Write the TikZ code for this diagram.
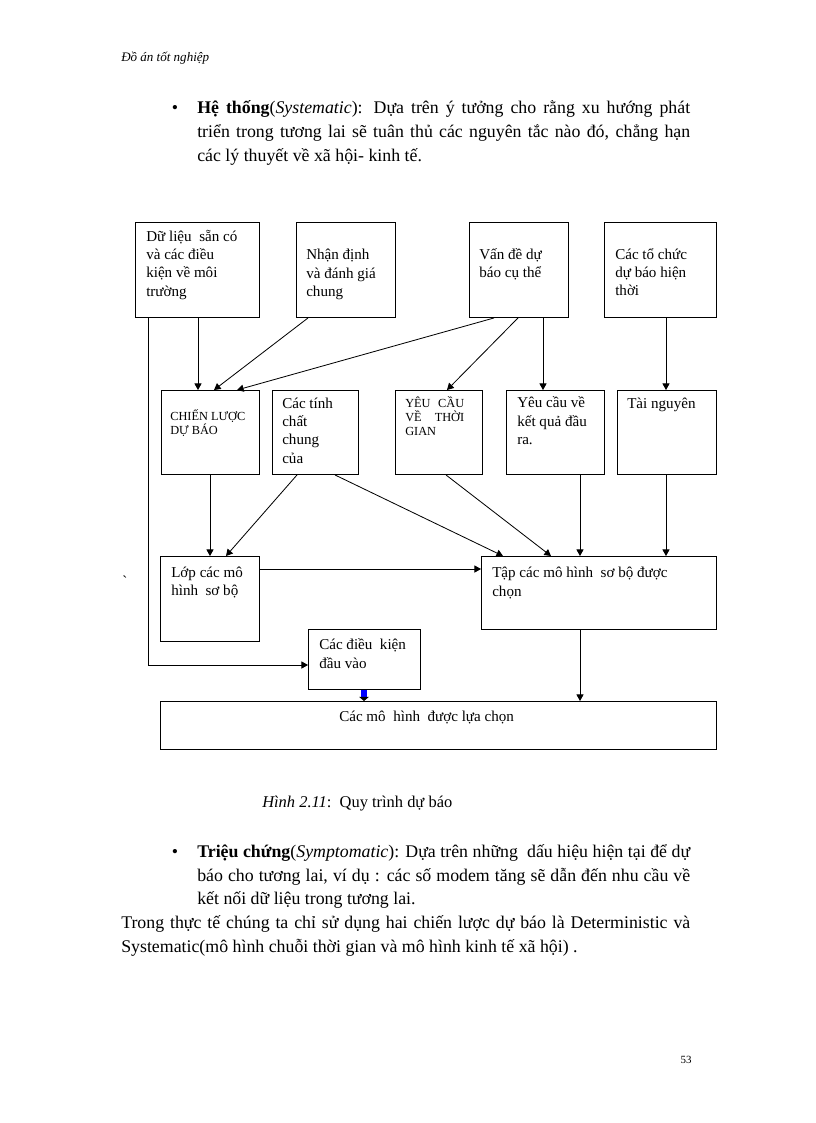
\documentclass[tikz,border=0pt]{standalone}
\usepackage{fontspec}
\setmainfont{Liberation Serif}
\usetikzlibrary{arrows.meta}
\def\px{0.7295pt}
\newcommand{\chuhop}{\fontsize{11}{13.4}\selectfont}
\newcommand{\chuhoa}{\fontsize{9}{10.2}\selectfont}
\newcommand{\chuthan}{\fontsize{13}{16}\selectfont}
\newcommand{\dem}{\rule{0pt}{12pt}}
\newcommand{\dan}[2]{\makebox[#1][s]{#2}}

\begin{document}
\begin{tikzpicture}[x=0.7295pt, y=-0.7295pt,
	hop/.style={draw, line width=0.7pt, inner sep=0pt, anchor=north west},
	chu/.style={anchor=north west, inner sep=0pt, align=left, font=\chuhop},
	chuin/.style={anchor=north west, inner sep=0pt, align=left, font=\chuhoa},
	dong/.style={anchor=base west, inner sep=0pt, font=\chuthan},
	muiten/.style={line width=0.6pt, -{Triangle[length=4.8pt,width=5.2pt]}},
	khoixanh/.style={draw=blue, line width=5pt, -{Triangle[length=3pt,width=7pt,color=black]}}]
			%%%%% TRANG %%%%%
			\path[fill=white, use as bounding box] (0,0) rectangle (816,1123);
			
			\node[anchor=base west, inner sep=0pt, font=\fontsize{9.5}{11}\selectfont\itshape] (tieude) at (121,61) {Đồ án tốt nghiệp};
			
			\node[anchor=base, inner sep=0pt, font=\chuthan] (cham1) at (175,113) {•};
			\node[dong] (hethong1) at (197,113) {\dan{359.6pt}{\textbf{Hệ thống}(\textit{Systematic}): Dựa trên ý tưởng cho rằng xu hướng phát}};
			\node[dong] (hethong2) at (197,137) {\dan{359.6pt}{triển trong tương lai sẽ tuân thủ các nguyên tắc nào đó, chẳng hạn}};
			\node[dong] (hethong3) at (197,161) {các lý thuyết về xã hội- kinh tế.};
			
			%%%%% HANG 1 %%%%%
			\node[hop, minimum width=124*\px, minimum height=95*\px] (dulieu) at (135,222) {};
			\node[chu] (dulieu-chu) at (146,224.5) {\dem Dữ liệu\ \ sẵn có\\và các điều\\kiện về môi\\trường};
			
			\node[hop, minimum width=99*\px, minimum height=95*\px] (nhandinh) at (296,222) {};
			\node[chu] (nhandinh-chu) at (306,243) {\dem Nhận định\\và đánh giá\\chung};
			
			\node[hop, minimum width=99*\px, minimum height=95*\px] (vande) at (469,222) {};
			\node[chu] (vande-chu) at (479,242.5) {\dem Vấn đề dự\\báo cụ thể};
			
			\node[hop, minimum width=112*\px, minimum height=95*\px] (tochuc) at (604,222) {};
			\node[chu] (tochuc-chu) at (615,242.5) {\dem Các tổ chức\\dự báo hiện\\thời};
			
			%%%%% HANG 2 %%%%%
			\node[hop, minimum width=98*\px, minimum height=84*\px] (chienluoc) at (161,390) {};
			\node[chuin] (chienluoc-chu) at (170,404) {\dem CHIẾN LƯỢC\\DỰ BÁO};
			
			\node[hop, minimum width=86*\px, minimum height=84*\px] (tinhchat) at (272,390) {};
			\node[chu] (tinhchat-chu) at (282,391.5) {\dem Các tính\\chất\\chung\\của};
			
			\node[hop, minimum width=87*\px, minimum height=84*\px] (thoigian) at (395,390) {};
			\node[chuin] (thoigian-chu) at (405,390.5) {\dem\dan{43pt}{YÊU CẦU}\\\dan{43pt}{VỀ THỜI}\\GIAN};
			
			\node[hop, minimum width=98*\px, minimum height=84*\px] (ketqua) at (506,390) {};
			\node[chu] (ketqua-chu) at (517,391) {\dem Yêu cầu về\\kết quả đầu\\ra.};
			
			\node[hop, minimum width=99*\px, minimum height=84*\px] (tainguyen) at (617,390) {};
			\node[chu] (tainguyen-chu) at (627,392) {\dem Tài nguyên};
			
			%%%%% HANG 3 %%%%%
			\node[anchor=base, inner sep=0pt, font=\chuhop] (dauhuyen) at (125,586) {\textasciigrave};
			
			\node[hop, minimum width=99*\px, minimum height=85*\px] (lop) at (160,556) {};
			\node[chu] (lop-chu) at (171,560.5) {\dem Lớp các mô\\hình\ \ sơ bộ};
			
			\node[hop, minimum width=235*\px, minimum height=73*\px] (tap) at (481,556) {};
			\node[chu] (tap-chu) at (492,561) {\dem Tập các mô hình\ \ sơ bộ được\\chọn};
			
			\node[hop, minimum width=112*\px, minimum height=60*\px] (dauvao) at (308,629) {};
			\node[chu] (dauvao-chu) at (319,633) {\dem Các điều\ \ kiện\\đầu vào};
			
			\node[hop, minimum width=556*\px, minimum height=48*\px] (luachon) at (160,701) {};
			\node[chu] (luachon-chu) at (339,704.5) {\dem Các mô\ \ hình\ \ được lựa chọn};
			
			%%%%% MUI TEN %%%%%
			\draw[muiten] (dulieu.south -| 198,0) -- (chienluoc.north -| 198,0);
			\draw[muiten] (nhandinh.south -| 308,0) -- (chienluoc.north -| 214,0);
			\draw[muiten] (vande.south -| 494,0) -- (chienluoc.north -| 237,0);
			\draw[muiten] (vande.south -| 518,0) -- (thoigian.north -| 447,0);
			\draw[muiten] (vande.south -| 543,0) -- (ketqua.north -| 543,0);
			\draw[muiten] (tochuc.south -| 666,0) -- (tainguyen.north -| 666,0);
			
			\draw[muiten] (chienluoc.south -| 210,0) -- (lop.north -| 210,0);
			\draw[muiten] (tinhchat.south -| 297,0) -- (lop.north -| 226,0);
			\draw[muiten] (tinhchat.south -| 335,0) -- (tap.north -| 503,0);
			\draw[muiten] (thoigian.south -| 446,0) -- (tap.north -| 551,0);
			\draw[muiten] (ketqua.south -| 580,0) -- (tap.north -| 580,0);
			\draw[muiten] (tainguyen.south -| 666,0) -- (tap.north -| 666,0);
			
			\draw[muiten] (lop.east |- 0,569) -- (tap.west |- 0,569);
			\draw[muiten] (dulieu.south -| 148,0) |- (dauvao.west |- 0,665);
			\draw[muiten] (tap.south -| 580,0) -- (luachon.north -| 580,0);
			\draw[khoixanh] (dauvao.south -| 364,0) -- (luachon.north -| 364,0);
			
			%%%%% CHU DUOI %%%%%
			\node[anchor=base west, inner sep=0pt, font=\fontsize{12}{14}\selectfont] (hinh) at (262,807) {\textit{Hình 2.11}:\ \ Quy trình dự báo};
			
			\node[anchor=base, inner sep=0pt, font=\chuthan] (cham2) at (175,857) {•};
			\node[dong] (trieuchung1) at (197,857) {\dan{359.6pt}{\textbf{Triệu chứng}(\textit{Symptomatic}): Dựa trên những\ \ dấu hiệu hiện tại để dự}};
			\node[dong] (trieuchung2) at (197,881) {\dan{359.6pt}{báo cho tương lai, ví dụ : các số modem tăng sẽ dẫn đến nhu cầu về}};
			\node[dong] (trieuchung3) at (197,904) {kết nối dữ liệu trong tương lai.};
			\node[dong] (thucte1) at (121,928) {\dan{415.1pt}{Trong thực tế chúng ta chỉ sử dụng hai chiến lược dự báo là Deterministic và}};
			\node[dong] (thucte2) at (121,952) {Systematic(mô hình chuỗi thời gian và mô hình kinh tế xã hội) .};
			
			\node[anchor=base, inner sep=0pt, font=\fontsize{8}{9}\selectfont] (trang) at (686,1063.5) {53};
\end{tikzpicture}
\end{document}
